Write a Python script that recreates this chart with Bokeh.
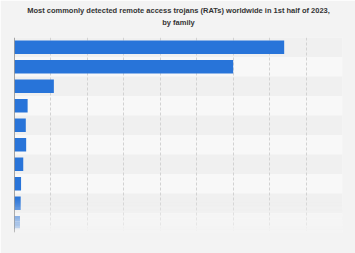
from bokeh.plotting import figure
from bokeh.models import Title, FixedTicker, ColumnDataSource
from bokeh.embed import file_html
from bokeh.resources import INLINE

# Share of detections per RAT family (%), sorted descending
families = ["Family 1", "Family 2", "Family 3", "Family 4", "Family 5",
            "Family 6", "Family 7", "Family 8", "Family 9", "Family 10"]
shares = [37.0, 30.0, 5.4, 1.8, 1.55, 1.6, 1.2, 0.9, 0.85, 0.75]
x_ticks = [0, 5, 10, 15, 20, 25, 30, 35, 40, 45]

title_1 = "Most commonly detected remote access trojans (RATs) worldwide in 1st half of 2023,"
title_2 = "by family"

BG = "#f3f3f3"
BAR = "#2874d9"

rows = list(range(len(families)))
n = len(families)
x_max = 45

p = figure(width=355, height=253, output_backend="svg", toolbar_location=None,
           x_range=(0, x_max), y_range=(n - 0.5, -0.5),
           min_border_left=14, min_border_right=13, min_border_bottom=21,
           min_border_top=37)
p.title = None

# heading panels stack outward from the plot: a thin spacer, then the two lines
p.add_layout(Title(text=" ", text_font_size="1px", standoff=5), "above")
for txt, gap in ((title_2, 2), (title_1, 0)):
    p.add_layout(Title(text=txt, align="center", vertical_align="top",
                       text_font="Liberation Sans", text_font_size="7.5px",
                       text_font_style="bold", text_color="#333333",
                       standoff=gap), "above")

p.border_fill_color = BG
p.background_fill_color = "#f0f0f0"
p.outline_line_color = None
p.xaxis.visible = False
p.yaxis.visible = False

# alternating row bands
p.ygrid.ticker = FixedTicker(ticks=[r - 0.5 for r in range(n + 1)])
p.ygrid.grid_line_color = None
p.ygrid.band_fill_color = "#f8f8f8"
p.ygrid.band_fill_alpha = 1.0
p.ygrid.level = "image"

# dashed vertical grid
p.xgrid.ticker = FixedTicker(ticks=x_ticks)
p.xgrid.grid_line_color = "#d2d2d2"
p.xgrid.grid_line_dash = "3 2"
p.xgrid.grid_line_width = 1

src = ColumnDataSource(dict(y=rows, share=shares, family=families))
p.hbar(y="y", right="share", left=0, height=0.7, source=src,
       fill_color=BAR, line_color=None)

# value axis baseline
p.segment(x0=[0], y0=[-0.5], x1=[0], y1=[n - 0.5], line_color="#555555", line_width=1)

# fade-out toward the bottom rows
steps = 40
y_start, y_end = n - 2.3, n - 0.5
h = (y_end - y_start) / steps
fy = [y_start + h * (i + 0.5) for i in range(steps)]
fa = [min(1.0, ((i + 0.5) / steps) ** 1.1 * 1.05) for i in range(steps)]
p.hbar(y=fy, left=-1, right=x_max + 1, height=h * 1.02, fill_color=BG,
       fill_alpha=fa, line_color=None)

open("out.html", "w").write(file_html(p, INLINE))
